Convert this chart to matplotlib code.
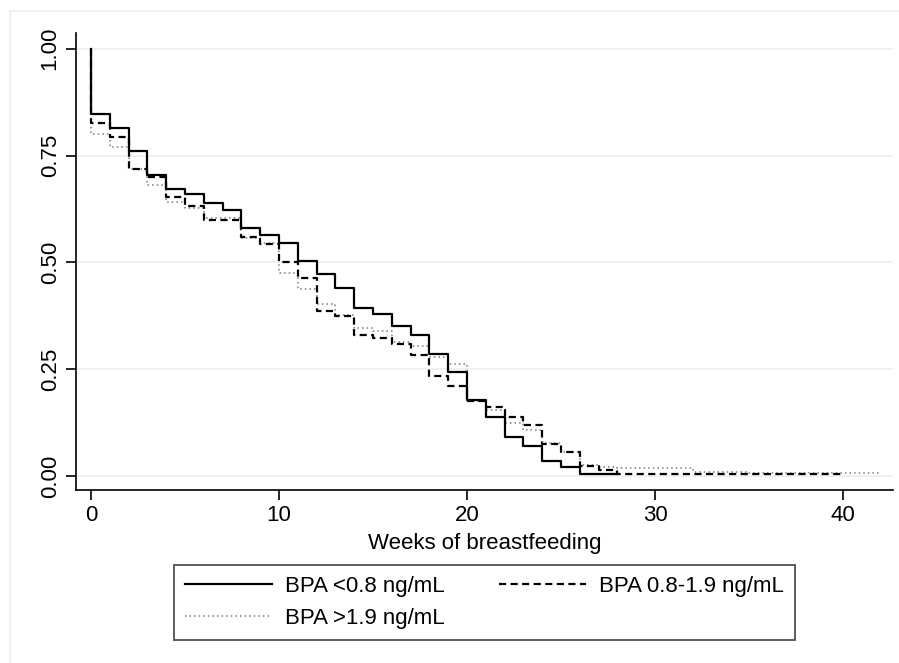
import matplotlib
matplotlib.use("Agg")
import matplotlib.pyplot as plt
from matplotlib.patches import Rectangle
from matplotlib.lines import Line2D

plt.rcParams['font.family'] = ['Liberation Sans', 'DejaVu Sans']

# Kaplan-Meier style survival estimates, step at each listed week
weeks_low = [0, 0, 1, 2, 3, 4, 5, 6, 7, 8, 9, 10, 11, 12, 13, 14, 15, 16, 17,
             18, 19, 20, 21, 22, 23, 24, 25, 26, 28]
surv_low = [1.0, 0.847, 0.814, 0.760, 0.705, 0.672, 0.661, 0.640, 0.622, 0.581,
            0.564, 0.545, 0.504, 0.472, 0.441, 0.393, 0.379, 0.352, 0.329,
            0.286, 0.244, 0.178, 0.137, 0.091, 0.070, 0.034, 0.021, 0.005, 0.005]

weeks_mid = [0, 0, 1, 2, 3, 4, 5, 6, 8, 9, 10, 11, 12, 13, 14, 15, 16, 17,
             18, 19, 20, 21, 22, 23, 24, 25, 26, 27, 28, 40]
surv_mid = [1.0, 0.827, 0.793, 0.719, 0.700, 0.654, 0.633, 0.600, 0.559, 0.543,
            0.500, 0.463, 0.385, 0.375, 0.330, 0.322, 0.309, 0.282, 0.233,
            0.211, 0.176, 0.161, 0.137, 0.120, 0.074, 0.055, 0.023, 0.014,
            0.005, 0.005]

weeks_high = [0, 0, 1, 2, 3, 4, 5, 6, 8, 9, 10, 11, 12, 13, 14, 15, 16, 17,
              18, 19, 20, 21, 22, 23, 24, 25, 26, 27, 28, 32, 35, 42]
surv_high = [1.0, 0.800, 0.771, 0.719, 0.681, 0.642, 0.627, 0.605, 0.558, 0.545,
             0.475, 0.437, 0.403, 0.377, 0.346, 0.340, 0.314, 0.303, 0.279,
             0.262, 0.175, 0.155, 0.125, 0.108, 0.078, 0.057, 0.026, 0.022,
             0.018, 0.010, 0.006, 0.006]

labels = ["BPA <0.8 ng/mL", "BPA 0.8-1.9 ng/mL", "BPA >1.9 ng/mL"]
yticks = [0, 0.25, 0.5, 0.75, 1.0]
xticks = [0, 10, 20, 30, 40]

DASH = (0, (3.2, 2.0))
DOT = (0, (1, 2))

W, H = 899, 663
fig = plt.figure(figsize=(W / 100, H / 100), dpi=100)
fig.patch.set_facecolor("white")
fig.patches.append(Rectangle((10 / W, -0.01), 1.0, 1 - 11 / H + 0.01, transform=fig.transFigure,
                             fill=False, edgecolor="#e8eef1", linewidth=1.2))

ax = fig.add_axes([76 / W, 1 - 490 / H, (893 - 76) / W, (490 - 33) / H])
ax.set_xlim(-0.8, 42.66)
ax.set_ylim(-0.033, 1.037)

for y in yticks:
    ax.axhline(y, color="#eaf0f2", linewidth=1.3, zorder=0)

ax.step(weeks_high, surv_high, where="post", color="#7a7a7a", linestyle=DOT,
        linewidth=1.1, zorder=2)
ax.step(weeks_mid, surv_mid, where="post", color="black", linestyle=DASH,
        linewidth=1.6, zorder=3)
ax.step(weeks_low, surv_low, where="post", color="black", linestyle="-",
        linewidth=1.6, zorder=4)

for s in ["top", "right"]:
    ax.spines[s].set_visible(False)
for s in ["left", "bottom"]:
    ax.spines[s].set_linewidth(1.2)

ax.set_yticks(yticks)
ax.set_yticklabels(["%.2f" % v for v in yticks], rotation=90, va="center", fontsize=16)
ax.set_xticks(xticks)
ax.set_xticklabels([str(v) for v in xticks], fontsize=16)
ax.tick_params(axis="both", direction="out", length=7, width=1.2, pad=4)
ax.set_xlabel("Weeks of breastfeeding", fontsize=16, labelpad=5)

# column-wise fill: col 1 = solid, dotted; col 2 = dashed
handles = [
    Line2D([], [], color="black", linestyle="-", linewidth=1.6),
    Line2D([], [], color="#7a7a7a", linestyle=DOT, linewidth=1.1),
    Line2D([], [], color="black", linestyle=DASH, linewidth=1.6),
]
leg_labels = [labels[0], labels[2], labels[1]]
leg = fig.legend(handles, leg_labels, ncol=2, loc="upper left",
                 bbox_to_anchor=(174 / W, 1 - 565 / H), borderaxespad=0,
                 fontsize=16, frameon=True, fancybox=False,
                 handlelength=3.9, handletextpad=0.6, columnspacing=2.45,
                 borderpad=0.5, labelspacing=0.5)
leg.get_frame().set_edgecolor("#333333")
leg.get_frame().set_linewidth(1.4)

fig.savefig("out.png", dpi=100)
